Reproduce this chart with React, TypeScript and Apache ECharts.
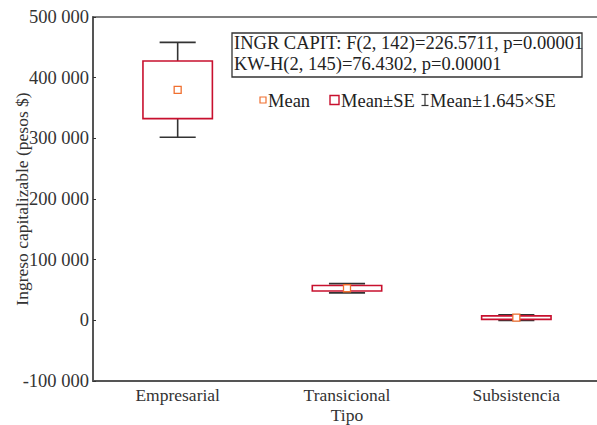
import React, { useEffect, useRef } from "react";
import * as echarts from "echarts";

const categories = ["Empresarial", "Transicional", "Subsistencia"];
const means = [380000, 52900, 4500];
const stdErrors = [47500, 4600, 2900];
const yTicks = { min: -100000, max: 500000, interval: 100000 };
const statLines = [
  "INGR CAPIT: F(2, 142)=226.5711, p=0.00001",
  "KW-H(2, 145)=76.4302, p=0.00001",
];
const legendLabels = ["Mean", "Mean±SE", "Mean±1.645×SE"];

const FONT = "'Liberation Serif', 'DejaVu Serif', serif";
const TXT = "#333";
const RED = "#c8102e";
const ORANGE = "#f07030";

function fmt(v: number) {
  return String(v).replace(/\B(?=(\d{3})+(?!\d))/g, " ");
}

export default function App() {
  const ref = useRef<HTMLDivElement>(null);
  useEffect(() => {
    const chart = echarts.init(ref.current!, null, { renderer: "svg" });
    const data = categories.map((c, i) => [i, means[i], stdErrors[i]]);
    const txt = (text: string, x: number, y: number, size = 18.5) => ({
      type: "text",
      x,
      y,
      style: { text, fontFamily: FONT, fontSize: size, fill: "#222", verticalAlign: "middle" },
    });
    chart.setOption({
      animation: false,
      backgroundColor: "#fff",
      grid: {
        left: 93,
        top: 17,
        width: 508,
        height: 364,
        show: true,
        borderColor: "#555",
        borderWidth: 1.3,
        containLabel: false,
        outerBoundsMode: "none",
      },
      xAxis: {
        type: "category",
        data: categories,
        name: "Tipo",
        nameLocation: "middle",
        nameGap: 25,
        nameMoveOverlap: false,
        nameTextStyle: { fontFamily: FONT, fontSize: 17.5, color: TXT, lineHeight: 18 },
        axisLine: { onZero: false, lineStyle: { color: "#555", width: 2 } },
        axisTick: { inside: true, alignWithLabel: true, length: 3, lineStyle: { color: "#333" } },
        axisLabel: { fontFamily: FONT, fontSize: 17.5, color: TXT, margin: 5 },
        splitLine: { show: false },
      },
      yAxis: {
        type: "value",
        min: yTicks.min,
        max: yTicks.max,
        interval: yTicks.interval,
        name: "Ingreso capitalizable (pesos $)",
        nameLocation: "middle",
        nameGap: 62,
        nameMoveOverlap: false,
        nameTextStyle: { fontFamily: FONT, fontSize: 17.5, color: TXT },
        axisLine: { show: true, onZero: false, lineStyle: { color: "#555", width: 2 } },
        axisTick: { show: true, inside: true, length: 3, lineStyle: { color: "#333" } },
        axisLabel: { fontFamily: FONT, fontSize: 18.5, color: TXT, margin: 4, formatter: (v: number) => fmt(v) },
        splitLine: { show: false },
      },
      series: [
        {
          type: "custom",
          data,
          renderItem: (params: any, api: any) => {
            const x = api.value(0);
            const m = api.value(1);
            const se = api.value(2);
            const c = api.coord([x, m]);
            const top = api.coord([x, m + se])[1];
            const bot = api.coord([x, m - se])[1];
            const wt = api.coord([x, m + 1.645 * se])[1];
            const wb = api.coord([x, m - 1.645 * se])[1];
            const bw = api.size([1, 0])[0] * 0.41;
            const cap = bw * 0.52;
            const ws = { stroke: "#333", lineWidth: 1.6 };
            return {
              type: "group",
              children: [
                { type: "line", shape: { x1: c[0], y1: wt, x2: c[0], y2: wb }, style: ws },
                { type: "line", shape: { x1: c[0] - cap / 2, y1: wt, x2: c[0] + cap / 2, y2: wt }, style: ws },
                { type: "line", shape: { x1: c[0] - cap / 2, y1: wb, x2: c[0] + cap / 2, y2: wb }, style: ws },
                {
                  type: "rect",
                  shape: { x: c[0] - bw / 2, y: top, width: bw, height: bot - top },
                  style: { fill: "#fff", stroke: RED, lineWidth: 1.6 },
                },
                {
                  type: "rect",
                  shape: { x: c[0] - 3.5, y: c[1] - 3.5, width: 7, height: 7 },
                  style: { fill: "#fff", stroke: ORANGE, lineWidth: 1.3 },
                },
              ],
            };
          },
        },
      ],
      graphic: [
        {
          type: "rect",
          shape: { x: 232, y: 33, width: 350, height: 44 },
          style: { fill: "#fff", stroke: "#333", lineWidth: 1.3 },
        },
        txt(statLines[0], 234, 42.5),
        txt(statLines[1], 234, 64),
        {
          type: "rect",
          shape: { x: 260, y: 97, width: 6, height: 6 },
          style: { fill: "#fff", stroke: ORANGE, lineWidth: 1.2 },
        },
        txt(legendLabels[0], 268, 100.5),
        {
          type: "rect",
          shape: { x: 330, y: 95.5, width: 9, height: 9 },
          style: { fill: "#fff", stroke: RED, lineWidth: 1.4 },
        },
        txt(legendLabels[1], 341, 100.5),
        { type: "line", shape: { x1: 425, y1: 94.5, x2: 425, y2: 105.5 }, style: { stroke: "#333", lineWidth: 1.2 } },
        { type: "line", shape: { x1: 421.5, y1: 94.5, x2: 428.5, y2: 94.5 }, style: { stroke: "#333", lineWidth: 1.2 } },
        { type: "line", shape: { x1: 421.5, y1: 105.5, x2: 428.5, y2: 105.5 }, style: { stroke: "#333", lineWidth: 1.2 } },
        txt(legendLabels[2], 430, 100.5),
      ],
    });
    return () => chart.dispose();
  }, []);
  return <div ref={ref} style={{ width: 597, height: 425, position: "absolute", left: 0, top: 0 }} />;
}
